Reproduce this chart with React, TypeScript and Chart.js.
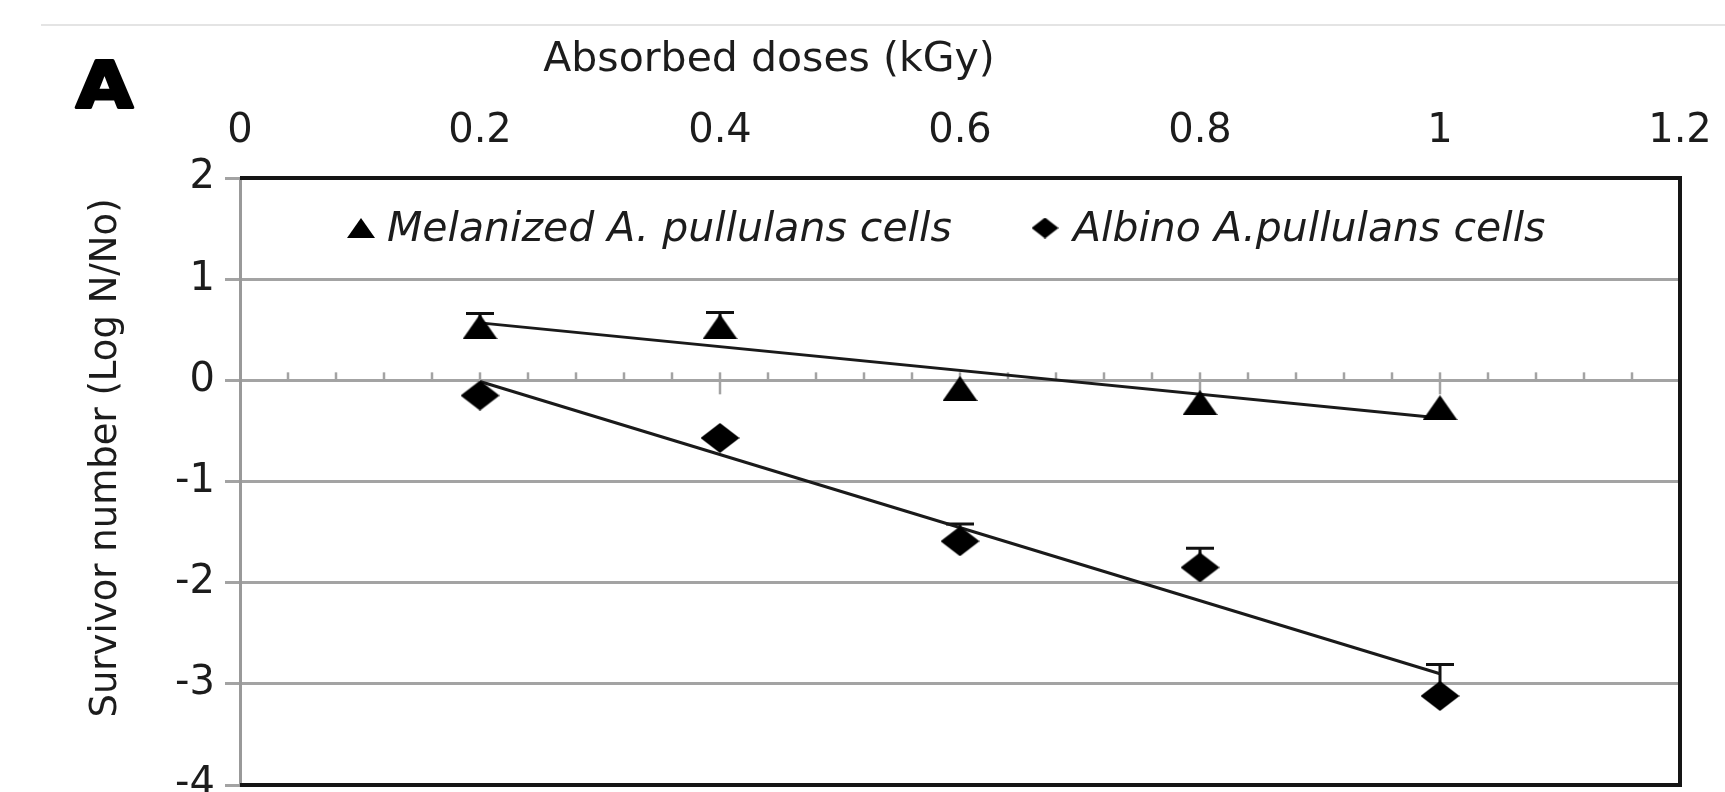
import React, { useEffect, useRef } from 'react';
import { Chart, registerables } from 'chart.js';

Chart.register(...registerables);

// ---- data ----
const doses = [0.2, 0.4, 0.6, 0.8, 1.0];
const melanized = [0.53, 0.53, -0.08, -0.22, -0.27];
const melanizedErr = [0.13, 0.14, 0, 0, 0];
const albino = [-0.15, -0.57, -1.59, -1.85, -3.12];
const albinoErr = [0, 0, 0.17, 0.19, 0.31];

const xTicks = [0, 0.2, 0.4, 0.6, 0.8, 1.0, 1.2];
const xTickLabels = ['0', '0.2', '0.4', '0.6', '0.8', '1', '1.2'];
const yTicks = [-4, -3, -2, -1, 0, 1, 2];
const yTickLabels = ['-4', '-3', '-2', '-1', '0', '1', '2'];
const minorStep = 0.04;

const seriesNames = ['Melanized A. pullulans cells', 'Albino A.pullulans cells'];
const xTitle = 'Absorbed doses (kGy)';
const yTitle = 'Survivor number (Log N/No)';
const panelLabel = 'A';

const FONT = '"DejaVu Sans", Verdana, sans-serif';
const TEXT = '#1c1c1c';
const GRID = '#a3a3a3';

function linFit(xs: number[], ys: number[]) {
  const n = xs.length;
  const mx = xs.reduce((a, b) => a + b, 0) / n;
  const my = ys.reduce((a, b) => a + b, 0) / n;
  let sxy = 0;
  let sxx = 0;
  for (let i = 0; i < n; i++) {
    sxy += (xs[i] - mx) * (ys[i] - my);
    sxx += (xs[i] - mx) * (xs[i] - mx);
  }
  const m = sxy / sxx;
  return { m, b: my - m * mx };
}

function makeTriangle(w: number, h: number) {
  const c = document.createElement('canvas');
  c.width = w;
  c.height = h;
  const g = c.getContext('2d')!;
  g.fillStyle = '#000';
  g.beginPath();
  g.moveTo(w / 2, 0);
  g.lineTo(w, h);
  g.lineTo(0, h);
  g.closePath();
  g.fill();
  return c;
}

function makeDiamond(w: number, h: number) {
  const c = document.createElement('canvas');
  c.width = w;
  c.height = h;
  const g = c.getContext('2d')!;
  g.fillStyle = '#000';
  g.beginPath();
  g.moveTo(w / 2, 0);
  g.lineTo(w, h / 2);
  g.lineTo(w / 2, h);
  g.lineTo(0, h / 2);
  g.closePath();
  g.fill();
  return c;
}

function zeroPad(s: any) {
  s.paddingLeft = 0;
  s.paddingRight = 0;
  s.paddingTop = 0;
  s.paddingBottom = 0;
}

export default function App() {
  const ref = useRef<HTMLCanvasElement | null>(null);

  useEffect(() => {
    document.body.style.margin = '0';
    document.body.style.overflow = 'hidden';
    const canvas = ref.current;
    if (!canvas) return;

    const tri = makeTriangle(35, 25);
    const dia = makeDiamond(39, 30);
    const triLeg = makeTriangle(28, 20);
    const diaLeg = makeDiamond(27, 21);

    const fitM = linFit(doses, melanized);
    const fitA = linFit(doses, albino);
    const x0 = doses[0];
    const x1 = doses[doses.length - 1];

    const decor = {
      id: 'decor',
      beforeDatasetsDraw(chart: any) {
        const { ctx, chartArea: a, scales } = chart;
        const xs = scales.x;
        const ys = scales.y;
        ctx.save();
        // minor / major ticks on the zero line
        const y0 = ys.getPixelForValue(0);
        ctx.strokeStyle = GRID;
        ctx.lineWidth = 2.5;
        const n = Math.round(1.2 / minorStep);
        for (let i = 1; i <= n; i++) {
          const px = xs.getPixelForValue(i * minorStep);
          const major = i % 5 === 0;
          ctx.beginPath();
          ctx.moveTo(px, y0 - 8);
          ctx.lineTo(px, y0 + (major ? 14 : 0));
          ctx.stroke();
        }
        // black plot border (top, right, bottom)
        ctx.strokeStyle = '#151515';
        ctx.lineWidth = 4;
        ctx.beginPath();
        ctx.moveTo(a.left, a.top);
        ctx.lineTo(a.right, a.top);
        ctx.lineTo(a.right, a.bottom);
        ctx.lineTo(a.left, a.bottom);
        ctx.stroke();
        // error bars (plus direction)
        ctx.strokeStyle = '#111';
        ctx.lineWidth = 3;
        const sets: [number[], number[]][] = [
          [melanized, melanizedErr],
          [albino, albinoErr],
        ];
        sets.forEach(([vals, errs]) => {
          vals.forEach((v, i) => {
            if (!errs[i]) return;
            const px = xs.getPixelForValue(doses[i]);
            const py = ys.getPixelForValue(v);
            const pt = ys.getPixelForValue(v + errs[i]);
            ctx.beginPath();
            ctx.moveTo(px, py);
            ctx.lineTo(px, pt);
            ctx.moveTo(px - 14, pt);
            ctx.lineTo(px + 14, pt);
            ctx.stroke();
          });
        });
        ctx.restore();
      },
      afterDraw(chart: any) {
        const { ctx } = chart;
        ctx.save();
        // faint line at the top of the figure
        ctx.strokeStyle = '#e4e4e4';
        ctx.lineWidth = 2;
        ctx.beginPath();
        ctx.moveTo(41, 25);
        ctx.lineTo(1725, 25);
        ctx.stroke();
        // panel label
        ctx.fillStyle = '#000';
        ctx.save();
        ctx.translate(76, 108);
        ctx.scale(1.15, 1);
        ctx.font = `bold 64px ${FONT}`;
        ctx.textAlign = 'left';
        ctx.textBaseline = 'alphabetic';
        ctx.lineWidth = 3;
        ctx.lineJoin = 'round';
        ctx.strokeStyle = '#000';
        ctx.fillText(panelLabel, 0, 0);
        ctx.strokeText(panelLabel, 0, 0);
        ctx.restore();
        // x title
        ctx.fillStyle = TEXT;
        ctx.font = `41px ${FONT}`;
        ctx.textAlign = 'center';
        ctx.textBaseline = 'alphabetic';
        ctx.fillText(xTitle, 769, 71);
        // y title
        ctx.save();
        ctx.translate(106, 458);
        ctx.rotate(-Math.PI / 2);
        ctx.font = `37px ${FONT}`;
        ctx.textAlign = 'center';
        ctx.textBaseline = 'middle';
        ctx.fillText(yTitle, 0, 0);
        ctx.restore();
        // legend
        ctx.drawImage(triLeg, 361 - 14, 228 - 10);
        ctx.drawImage(diaLeg, 1045 - 13.5, 228 - 10.5);
        ctx.font = `italic 41px ${FONT}`;
        ctx.textAlign = 'left';
        ctx.textBaseline = 'alphabetic';
        ctx.fillText(seriesNames[0], 387, 241);
        ctx.fillText(seriesNames[1], 1073, 241);
        ctx.restore();
      },
    };

    const chart = new Chart(canvas, {
      type: 'scatter',
      data: {
        datasets: [
          {
            label: seriesNames[0],
            data: doses.map((d, i) => ({ x: d, y: melanized[i] })),
            pointStyle: tri as any,
            pointRadius: 12,
            showLine: false,
          },
          {
            label: seriesNames[1],
            data: doses.map((d, i) => ({ x: d, y: albino[i] })),
            pointStyle: dia as any,
            pointRadius: 12,
            showLine: false,
          },
          {
            label: 'Melanized trend',
            data: [
              { x: x0, y: fitM.m * x0 + fitM.b },
              { x: x1, y: fitM.m * x1 + fitM.b },
            ],
            showLine: true,
            borderColor: '#1a1a1a',
            borderWidth: 3,
            pointRadius: 0,
          },
          {
            label: 'Albino trend',
            data: [
              { x: x0, y: fitA.m * x0 + fitA.b },
              { x: x1, y: fitA.m * x1 + fitA.b },
            ],
            showLine: true,
            borderColor: '#1a1a1a',
            borderWidth: 3,
            pointRadius: 0,
          },
        ],
      },
      options: {
        responsive: false,
        devicePixelRatio: 1,
        animation: false,
        layout: { autoPadding: false, padding: { left: 0, top: 0, right: 45, bottom: 7 } },
        plugins: {
          legend: { display: false },
          tooltip: { enabled: false },
          title: { display: false },
        },
        scales: {
          x: {
            type: 'linear',
            position: 'top',
            min: 0,
            max: 1.2,
            afterBuildTicks: (s: any) => {
              s.ticks = xTicks.map((v) => ({ value: v }));
            },
            afterFit: (s: any) => {
              s.height = 178;
              zeroPad(s);
            },
            ticks: {
              font: { family: FONT, size: 40 },
              color: TEXT,
              padding: 22,
              maxRotation: 0,
              autoSkip: false,
              callback: (_v: any, i: number) => xTickLabels[i],
            },
            grid: { display: false, drawTicks: false },
            border: { display: false },
          },
          y: {
            type: 'linear',
            position: 'left',
            min: -4,
            max: 2,
            afterBuildTicks: (s: any) => {
              s.ticks = yTicks.map((v) => ({ value: v }));
            },
            afterFit: (s: any) => {
              s.width = 240;
              zeroPad(s);
            },
            ticks: {
              font: { family: FONT, size: 40 },
              color: TEXT,
              padding: 10,
              autoSkip: false,
              callback: (_v: any, i: number) => yTickLabels[i],
            },
            grid: {
              color: (c: any) =>
                c.tick && (c.tick.value === 2 || c.tick.value === -4) ? 'rgba(0,0,0,0)' : GRID,
              lineWidth: 3,
              tickLength: 15,
              tickColor: GRID,
              tickWidth: 3,
              drawTicks: true,
            },
            border: { display: true, color: '#999', width: 3 },
          },
        },
      },
      plugins: [decor],
    } as any);

    return () => chart.destroy();
  }, []);

  return (
    <div style={{ position: 'absolute', left: 0, top: 0, width: 1725, height: 792, background: '#fff' }}>
      <canvas ref={ref} width={1725} height={792} style={{ display: 'block' }} />
    </div>
  );
}
